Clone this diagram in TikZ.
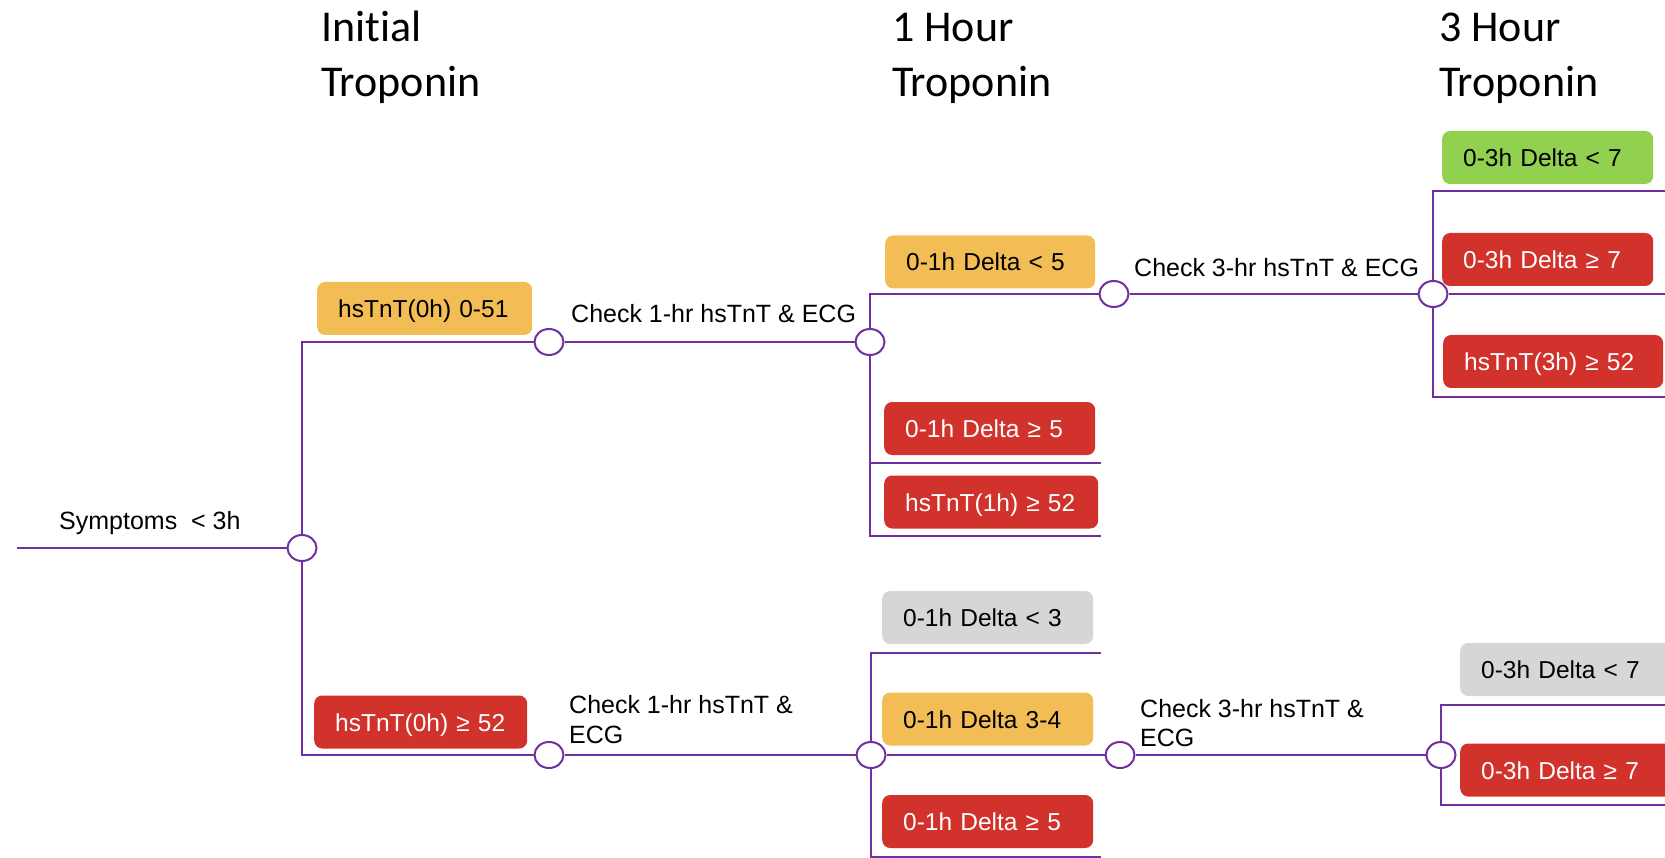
\documentclass[tikz,border=0pt]{standalone}
\usepackage{fontspec}
\setmainfont{Liberation Sans}
\newfontfamily\hdrfont[Ligatures=NoCommon]{Carlito}
\usetikzlibrary{shapes.geometric}
\definecolor{lpurple}{HTML}{7030A0}
\definecolor{bred}{HTML}{D1322B}
\definecolor{borange}{HTML}{F3BD55}
\definecolor{bgreen}{HTML}{92D050}
\definecolor{bgrey}{HTML}{D6D6D6}
\begin{document}
\begin{tikzpicture}[x=1pt,y=-1pt,
  conn/.style={draw=lpurple,line width=2.8pt},
  junc/.style={ellipse,draw=lpurple,line width=2pt,fill=white,minimum width=29pt,minimum height=26pt,inner sep=0pt},
  boxbase/.style={anchor=west,rounded corners=8pt,inner xsep=21pt,inner ysep=0pt,minimum height=53pt,align=left,
     text height=18pt,text depth=0pt,font=\fontsize{24.5}{29}\selectfont},
  redbox/.style={boxbase,fill=bred,text=white},
  orbox/.style={boxbase,fill=borange,text=black},
  grbox/.style={boxbase,fill=bgreen,text=black},
  gybox/.style={boxbase,fill=bgrey,text=black},
  lbl/.style={anchor=base west,inner sep=0pt,font=\fontsize{25}{29}\selectfont},
  hdr/.style={anchor=base west,inner sep=0pt,font=\hdrfont\fontsize{44}{55}\selectfont}]
\useasboundingbox (0,0) rectangle (1665,858);
\clip (0,0) rectangle (1665,858);

% headers
\node[hdr] (h0a) at (321,41.7) {Initial};
\node[hdr] (h0b) at (321,96.7) {Troponin};
\node[hdr] (h1a) at (892,41.7) {1 Hour};
\node[hdr] (h1b) at (892,96.7) {Troponin};
\node[hdr] (h3a) at (1439,41.7) {3 Hour};
\node[hdr] (h3b) at (1439,96.7) {Troponin};

% junctions
\coordinate (start) at (17,548);
\node[junc] (C0) at (302,548) {};
\node[junc] (C1a) at (549,342) {};
\node[junc] (C1b) at (870,342) {};
\node[junc] (C2a) at (1114,294) {};
\node[junc] (C2b) at (1433,294) {};
\node[junc] (C1c) at (549,755) {};
\node[junc] (C1d) at (871,755) {};
\node[junc] (C2c) at (1120,755) {};
\node[junc] (C2d) at (1441,755) {};

% free ends
\coordinate (e1b) at (1101,463);
\coordinate (e1c) at (1101,536);
\coordinate (e1d) at (1101,653);
\coordinate (e1f) at (1101,857);
\coordinate (e3a) at (1665,191);
\coordinate (e3b) at (1665,294);
\coordinate (e3c) at (1665,397);
\coordinate (e3d) at (1665,705);
\coordinate (e3e) at (1665,805);

% connectors
\draw[conn] (start) -- (C0);
\draw[conn] (C0) |- (C1a);
\draw[conn] (C0) |- (C1c);
\draw[conn] (C1a) -- (C1b);
\draw[conn] (C1b) |- (C2a);
\draw[conn] (C1b) |- (e1b);
\draw[conn] (C1b) |- (e1c);
\draw[conn] (C2a) -- (C2b);
\draw[conn] (C2b) |- (e3a);
\draw[conn] (C2b) -- (e3b);
\draw[conn] (C2b) |- (e3c);
\draw[conn] (C1c) -- (C1d);
\draw[conn] (C1d) |- (e1d);
\draw[conn] (C1d) -- (C2c);
\draw[conn] (C1d) |- (e1f);
\draw[conn] (C2c) -- (C2d);
\draw[conn] (C2d) |- (e3d);
\draw[conn] (C2d) |- (e3e);

% labels
\node[lbl] (Ls) at (59,529) {Symptoms\ \ {<}\ 3h};
\node[lbl] (L1) at (571,323) {Check 1-hr hsTnT \& ECG};
\node[lbl] (L3) at (1134,277) {Check 3-hr hsTnT \& ECG};
\node[lbl] (L1b) at (569,713) {Check 1-hr hsTnT \&};
\node[lbl] (L1c) at (569,743) {ECG};
\node[lbl] (L3b) at (1140,717) {Check 3-hr hsTnT \&};
\node[lbl] (L3c) at (1140,746) {ECG};

% boxes
\node[orbox,text width=173pt] (b0a) at (317,308.5) {\mbox{hsTnT(0h) 0-51}};
\node[redbox,text width=171pt] (b0b) at (314,722) {\mbox{hsTnT(0h) ≥ 52}};
\node[orbox,text width=168pt] (b1a) at (885,262) {\mbox{0-1h Delta {<} 5}};
\node[redbox,text width=169pt] (b1b) at (884,428.5) {\mbox{0-1h Delta ≥ 5}};
\node[redbox,text width=172pt] (b1c) at (884,502) {\mbox{hsTnT(1h) ≥ 52}};
\node[gybox,text width=169pt] (b1d) at (882,617.5) {\mbox{0-1h Delta {<} 3}};
\node[orbox,text width=169pt] (b1e) at (882,719) {\mbox{0-1h Delta 3-4}};
\node[redbox,text width=169pt] (b1f) at (882,821.5) {\mbox{0-1h Delta ≥ 5}};
\node[grbox,text width=169pt] (b3a) at (1442,157.5) {\mbox{0-3h Delta {<} 7}};
\node[redbox,text width=169pt] (b3b) at (1442,259.5) {\mbox{0-3h Delta ≥ 7}};
\node[redbox,text width=178pt] (b3c) at (1443,361.5) {\mbox{hsTnT(3h) ≥ 52}};
\node[gybox,text width=198pt] (b3d) at (1460,669.5) {\mbox{0-3h Delta {<} 7}};
\node[redbox,text width=198pt] (b3e) at (1460,770) {\mbox{0-3h Delta ≥ 7}};
\end{tikzpicture}
\end{document}
